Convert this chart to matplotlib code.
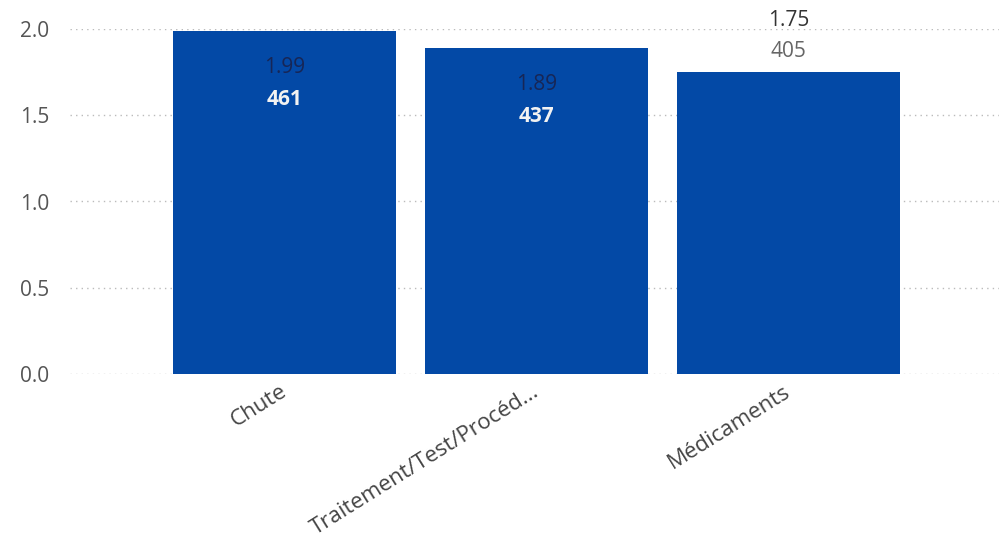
import matplotlib
matplotlib.use("Agg")
import matplotlib.pyplot as plt
import matplotlib.transforms as mtransforms

categories = ["Chute", "Traitement/Test/Procéd...", "Médicaments"]
rates = [1.99, 1.89, 1.75]
counts = [461, 437, 405]
yticks = [0.0, 0.5, 1.0, 1.5, 2.0]

plt.rcParams['font.family'] = ['Open Sans', 'DejaVu Sans']

fig = plt.figure(figsize=(9.99, 5.37), dpi=100)
ax = fig.add_axes([70 / 999, (537 - 374) / 537, 1 - 70 / 999, (374 - 29) / 537])

x = list(range(len(categories)))
ax.bar(x, rates, width=0.885, color="#0349A6", zorder=2)

ax.set_xlim(-0.85, 2.835)
ax.set_ylim(0, 2.0)
ax.set_yticks(yticks)
ax.set_yticklabels([f"{v:.1f}" for v in yticks], fontsize=15, color="#555555")
ax.tick_params(axis="y", length=0, pad=15)
ax.tick_params(axis="x", length=0, pad=5)
ax.set_xticks(x)
ax.set_xticklabels(categories, rotation=32, ha="right", rotation_mode="anchor",
                   fontsize=16, color="#444444")
shift = mtransforms.ScaledTranslation(-0.05, 0, fig.dpi_scale_trans)
for lbl in ax.get_xticklabels():
    lbl.set_transform(lbl.get_transform() + shift)

for s in ax.spines.values():
    s.set_visible(False)
ax.grid(axis="y", linestyle=(0, (1, 3)), color="#BBBBBB", linewidth=1, zorder=0)

# value labels: inside the bar when it is tall enough, otherwise above it
for i, (r, c) in enumerate(zip(rates, counts)):
    if r > 1.8:
        ax.annotate(f"{r:.2f}", (i, r), xytext=(0, -37), textcoords="offset pixels",
                    ha="center", va="center", fontsize=15, color="#172656")
        ax.annotate(f"{c}", (i, r), xytext=(0, -69), textcoords="offset pixels",
                    ha="center", va="center", fontsize=15, color="#F2F2F2",
                    fontweight="bold")
    else:
        ax.annotate(f"{r:.2f}", (i, r), xytext=(0, 52), textcoords="offset pixels",
                    ha="center", va="center", fontsize=15, color="#333333",
                    annotation_clip=False)
        ax.annotate(f"{c}", (i, r), xytext=(0, 21), textcoords="offset pixels",
                    ha="center", va="center", fontsize=15, color="#666666",
                    annotation_clip=False)

fig.savefig("out.png", dpi=100)
